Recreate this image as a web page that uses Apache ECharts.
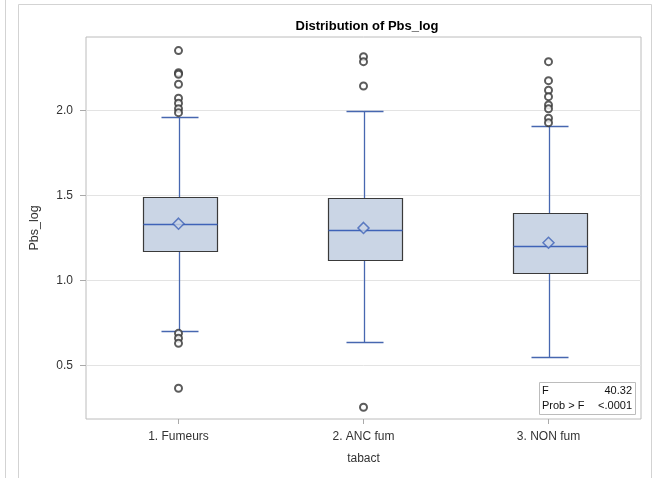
<!DOCTYPE html>
<html>
<head>
<meta charset="utf-8">
<script src="https://cdn.jsdelivr.net/npm/echarts@6/dist/echarts.min.js"></script>
<style>
html,body{margin:0;padding:0;background:#fff;}
#chart{width:659px;height:478px;}
</style>
</head>
<body>
<div id="chart"></div>
<script>
// ---- data ----
const categories = ['1. Fumeurs', '2. ANC fum', '3. NON fum'];
const whiskerLow = [0.704, 0.639, 0.551];
const q1Values = [1.174, 1.121, 1.041];
const medianValues = [1.331, 1.296, 1.204];
const q3Values = [1.488, 1.482, 1.396];
const whiskerHigh = [1.959, 1.998, 1.908];
const meanValues = [1.333, 1.308, 1.221];
const outliersFumeurs = [2.351, 2.221, 2.212, 2.153, 2.071, 2.041, 2.009, 1.986, 0.688, 0.659, 0.629, 0.365];
const outliersAnc = [2.315, 2.286, 2.143, 0.253];
const outliersNon = [2.286, 2.174, 2.118, 2.080, 2.031, 2.009, 1.953, 1.927];
const yTickValues = [0.5, 1.0, 1.5, 2.0];
const statF = '40.32';
const statP = '<.0001';

const outlierLists = [outliersFumeurs, outliersAnc, outliersNon];
const boxData = categories.map((c, i) => [i, whiskerLow[i], q1Values[i], medianValues[i], q3Values[i], whiskerHigh[i]]);
const meanData = categories.map((c, i) => [i, meanValues[i]]);
const outlierData = [];
outlierLists.forEach((arr, i) => arr.forEach(v => outlierData.push([i, v])));

const boxFill = '#CAD5E5';
const boxBorder = '#3a3a3a';
const whiskerColor = '#4767B0';
const medianColor = '#3F63B8';
const FONT = 'Liberation Sans, Arial, sans-serif';

function px(v){ return Math.round(v) + 0.5; }

function renderBox(params, api) {
  const idx = api.value(0);
  const band = api.size([1, 0])[0];
  const boxW = band * 0.4;
  const capW = band * 0.2;
  const pLow = api.coord([idx, api.value(1)]);
  const pQ1 = api.coord([idx, api.value(2)]);
  const pMed = api.coord([idx, api.value(3)]);
  const pQ3 = api.coord([idx, api.value(4)]);
  const pHigh = api.coord([idx, api.value(5)]);
  const cx = px(pQ1[0]);
  const x0 = px(cx - boxW / 2);
  const x1 = px(cx + boxW / 2);
  const lw = { stroke: whiskerColor, lineWidth: 1.3 };
  return {
    type: 'group',
    children: [
      { type: 'line', shape: { x1: cx, y1: px(pHigh[1]), x2: cx, y2: px(pQ3[1]) }, style: lw },
      { type: 'line', shape: { x1: cx, y1: px(pQ1[1]), x2: cx, y2: px(pLow[1]) }, style: lw },
      { type: 'line', shape: { x1: px(cx - capW / 2), y1: px(pHigh[1]), x2: px(cx + capW / 2), y2: px(pHigh[1]) }, style: lw },
      { type: 'line', shape: { x1: px(cx - capW / 2), y1: px(pLow[1]), x2: px(cx + capW / 2), y2: px(pLow[1]) }, style: lw },
      { type: 'rect', shape: { x: x0, y: px(pQ3[1]), width: x1 - x0, height: px(pQ1[1]) - px(pQ3[1]) },
        style: { fill: boxFill, stroke: boxBorder, lineWidth: 1.2 } },
      { type: 'line', shape: { x1: x0, y1: px(pMed[1]), x2: x1, y2: px(pMed[1]) }, style: { stroke: medianColor, lineWidth: 1.4 } }
    ]
  };
}

const chart = echarts.init(document.getElementById('chart'), null, { renderer: 'canvas' });
chart.setOption({
  animation: false,
  backgroundColor: '#fff',
  title: {
    text: 'Distribution of Pbs_log',
    left: 362, top: 15, textAlign: 'center',
    textStyle: { fontFamily: FONT, fontSize: 13, fontWeight: 'bold', color: '#000' }
  },
  grid: {
    left: 86, right: 18, top: 37, bottom: 59,
    show: true, borderColor: '#bcbcbc', borderWidth: 1, backgroundColor: 'transparent'
  },
  xAxis: {
    type: 'category',
    data: categories,
    boundaryGap: true,
    name: 'tabact',
    nameLocation: 'middle',
    nameGap: 34,
    nameTextStyle: { fontFamily: FONT, fontSize: 12, color: '#333' },
    axisLine: { show: false },
    axisTick: { show: true, alignWithLabel: true, length: 5, lineStyle: { color: '#aaa' } },
    axisLabel: { margin: 12, fontFamily: FONT, fontSize: 12, color: '#333' },
    splitLine: { show: false }
  },
  yAxis: {
    type: 'value',
    min: 0.184,
    max: 2.431,
    name: 'Pbs_log',
    nameLocation: 'middle',
    nameGap: 45,
    nameTextStyle: { fontFamily: FONT, fontSize: 12.5, color: '#333' },
    axisLine: { show: false },
    axisTick: { show: true, length: 6, customValues: yTickValues, lineStyle: { color: '#aaa' } },
    axisLabel: { margin: 13, customValues: yTickValues, fontFamily: FONT, fontSize: 12, color: '#333',
      formatter: v => Number(v).toFixed(1) },
    splitLine: { show: true, lineStyle: { color: '#e3e3e3', width: 1 } }
  },
  series: [
    {
      type: 'custom',
      name: 'box',
      data: boxData,
      encode: { x: 0, y: [1, 2, 3, 4, 5] },
      renderItem: renderBox,
      z: 2
    },
    {
      type: 'scatter',
      name: 'outliers',
      data: outlierData,
      symbol: 'emptyCircle',
      symbolSize: 7,
      itemStyle: { color: '#333', borderColor: '#333', borderWidth: 1.1 },
      z: 3
    },
    {
      type: 'scatter',
      name: 'mean',
      data: meanData,
      symbol: 'diamond',
      symbolSize: 11,
      itemStyle: { color: boxFill, borderColor: '#3F63B8', borderWidth: 1.5 },
      z: 4
    }
  ],
  graphic: [
    { type: 'line', shape: { x1: 5.5, y1: 0, x2: 5.5, y2: 478 }, style: { stroke: '#d3d3d3', lineWidth: 1 } },
    { type: 'polyline', shape: { points: [[18.5, 478], [18.5, 4.5], [651.5, 4.5], [651.5, 478]] },
      style: { stroke: '#d3d3d3', lineWidth: 1, fill: null } },
    { type: 'rect', shape: { x: 539.5, y: 382.5, width: 96, height: 32 },
      style: { fill: '#fff', stroke: '#bcbcbc', lineWidth: 1 }, z: 10 },
    { type: 'text', x: 542, y: 391, z: 11,
      style: { text: 'F', font: '11px ' + FONT, fill: '#111', textVerticalAlign: 'middle' } },
    { type: 'text', x: 632, y: 391, z: 11,
      style: { text: statF, font: '11px ' + FONT, fill: '#111', textAlign: 'right', textVerticalAlign: 'middle' } },
    { type: 'text', x: 542, y: 406, z: 11,
      style: { text: 'Prob > F', font: '11px ' + FONT, fill: '#111', textVerticalAlign: 'middle' } },
    { type: 'text', x: 632, y: 406, z: 11,
      style: { text: statP, font: '11px ' + FONT, fill: '#111', textAlign: 'right', textVerticalAlign: 'middle' } }
  ]
});
</script>
</body>
</html>
